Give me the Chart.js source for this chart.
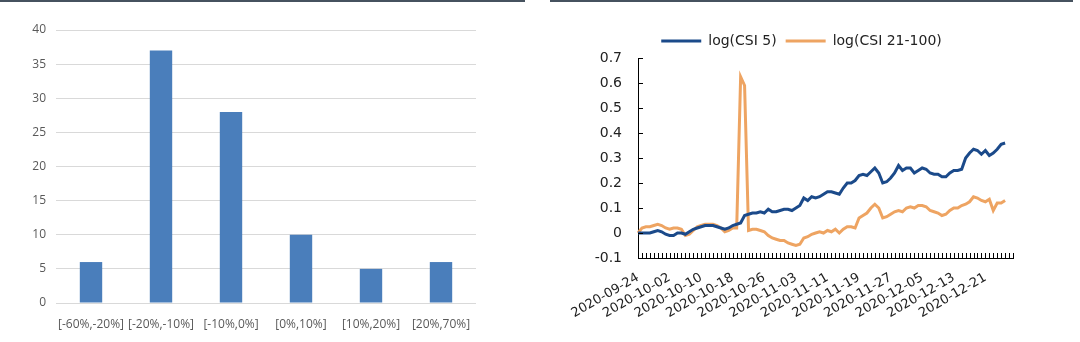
<!DOCTYPE html>
<html>
<head>
<meta charset="utf-8">
<script src="https://cdn.jsdelivr.net/npm/chart.js@4"></script>
<style>
  html, body { margin: 0; padding: 0; background: #fff; }
  body { width: 1080px; height: 342px; position: relative; overflow: hidden; }
  .topline { position: absolute; top: 0; height: 2px; background: #46525f; }
  .box { position: absolute; top: 0; width: 540px; height: 342px; }
</style>
</head>
<body>
<div class="topline" style="left:0;width:525px"></div>
<div class="topline" style="left:550px;width:523px"></div>
<div class="box" style="left:0"><canvas id="barChart" width="540" height="342"></canvas></div>
<div class="box" style="left:540px"><canvas id="lineChart" width="540" height="342"></canvas></div>
<script>
// left: distribution of returns
const bucketLabels = ['[-60%,-20%]', '[-20%,-10%]', '[-10%,0%]', '[0%,10%]', '[10%,20%]', '[20%,70%]'];
const bucketCounts = [6, 37, 28, 10, 5, 6];

// right: daily log index, 2020-09-24 .. 2020-12-28
const startDate = '2020-09-24';
const dayCount = 96;
const csi5 = [
  0.00, 0.00, 0.00, 0.00, 0.005, 0.01, 0.005, -0.005, -0.01, -0.01,
  0.00, 0.00, -0.005, 0.005, 0.015, 0.02, 0.025, 0.03, 0.03, 0.03,
  0.025, 0.02, 0.015, 0.02, 0.03, 0.035, 0.04, 0.07, 0.075, 0.08,
  0.08, 0.085, 0.08, 0.095, 0.085, 0.085, 0.09, 0.095, 0.095, 0.09,
  0.10, 0.11, 0.14, 0.13, 0.145, 0.14, 0.145, 0.155, 0.165, 0.165,
  0.16, 0.155, 0.18, 0.20, 0.20, 0.21, 0.23, 0.235, 0.23, 0.245,
  0.26, 0.24, 0.20, 0.205, 0.22, 0.24, 0.27, 0.25, 0.26, 0.26,
  0.24, 0.25, 0.26, 0.255, 0.24, 0.235, 0.235, 0.225, 0.225, 0.24,
  0.25, 0.25, 0.255, 0.30, 0.32, 0.335, 0.33, 0.315, 0.33, 0.31,
  0.32, 0.335, 0.355, 0.36
];
const csi21to100 = [
  0.00, 0.02, 0.025, 0.025, 0.03, 0.035, 0.03, 0.02, 0.015, 0.02,
  0.02, 0.015, -0.01, -0.005, 0.01, 0.025, 0.03, 0.035, 0.035, 0.035,
  0.03, 0.02, 0.005, 0.01, 0.02, 0.02, 0.625, 0.59, 0.01, 0.015,
  0.015, 0.01, 0.005, -0.01, -0.02, -0.025, -0.03, -0.03, -0.04, -0.045,
  -0.05, -0.045, -0.02, -0.015, -0.005, 0.00, 0.005, 0.00, 0.01, 0.005,
  0.015, 0.00, 0.015, 0.025, 0.025, 0.02, 0.06, 0.07, 0.08, 0.10,
  0.115, 0.10, 0.06, 0.065, 0.075, 0.085, 0.09, 0.085, 0.10, 0.105,
  0.10, 0.11, 0.11, 0.105, 0.09, 0.085, 0.08, 0.07, 0.075, 0.09,
  0.10, 0.10, 0.11, 0.115, 0.125, 0.145, 0.14, 0.13, 0.125, 0.135,
  0.09, 0.12, 0.12, 0.13
];

const dateLabels = [];
for (let i = 0; i < dayCount; i++) {
  const d = new Date(startDate + 'T00:00:00Z');
  d.setUTCDate(d.getUTCDate() + i);
  dateLabels.push(d.toISOString().slice(0, 10));
}

new Chart(document.getElementById('barChart'), {
  type: 'bar',
  data: {
    labels: bucketLabels,
    datasets: [{ data: bucketCounts, backgroundColor: '#4a7ebb', categoryPercentage: 1, barPercentage: 0.32 }]
  },
  options: {
    responsive: false,
    animation: false,
    layout: { padding: { left: 0, right: 64, top: 30, bottom: 9 } },
    plugins: { legend: { display: false }, tooltip: { enabled: false } },
    scales: {
      x: {
        grid: { display: false },
        border: { display: false },
        ticks: { color: '#595959', font: { family: 'Open Sans', size: 12 }, padding: 6, maxRotation: 0, autoSkip: false },
        afterFit: s => { s.height = 30; }
      },
      y: {
        min: 0, max: 40,
        ticks: { stepSize: 5, color: '#595959', font: { family: 'Open Sans', size: 12 }, padding: 10 },
        grid: { color: '#d9d9d9', drawTicks: false },
        border: { display: false },
        afterFit: s => { s.width = 56; }
      }
    }
  }
});

// short tick marks pointing into the plot
const innerTicks = {
  id: 'innerTicks',
  afterDraw(chart) {
    const { ctx, scales: { x, y }, chartArea } = chart;
    ctx.save();
    ctx.strokeStyle = '#000';
    ctx.lineWidth = 1;
    ctx.beginPath();
    x.ticks.forEach((t, i) => {
      const px = Math.round(x.getPixelForTick(i)) + 0.5;
      ctx.moveTo(px, chartArea.bottom);
      ctx.lineTo(px, chartArea.bottom - 5);
    });
    y.ticks.forEach((t, i) => {
      const py = Math.round(y.getPixelForTick(i)) + 0.5;
      ctx.moveTo(chartArea.left, py);
      ctx.lineTo(chartArea.left + 5, py);
    });
    ctx.stroke();
    ctx.restore();
  }
};

new Chart(document.getElementById('lineChart'), {
  type: 'line',
  data: {
    labels: dateLabels,
    datasets: [
      { label: 'log(CSI 5)', data: csi5, borderColor: '#1b4a8a', backgroundColor: '#1b4a8a', borderWidth: 3, pointRadius: 0, tension: 0 },
      { label: 'log(CSI 21-100)', data: csi21to100, borderColor: '#eea462', backgroundColor: '#eea462', borderWidth: 3, pointRadius: 0, tension: 0 }
    ]
  },
  options: {
    responsive: false,
    animation: false,
    layout: { padding: { left: 50, right: 67, top: 25, bottom: 0 } },
    plugins: {
      tooltip: { enabled: false },
      legend: {
        position: 'top',
        labels: {
          usePointStyle: true, pointStyle: 'line', pointStyleWidth: 40,
          color: '#222', font: { family: 'DejaVu Sans', size: 14 }, padding: 9
        }
      }
    },
    scales: {
      x: {
        offset: false,
        grid: { display: false },
        border: { display: true, color: '#000', width: 1 },
        ticks: {
          autoSkip: false, minRotation: 30, maxRotation: 30, padding: 4,
          color: '#222', font: { family: 'DejaVu Sans', size: 13 },
          callback: (v, i) => (i % 8 === 0 ? dateLabels[i] : '')
        },
        afterFit: s => { s.height = 84; }
      },
      y: {
        min: -0.1, max: 0.7,
        grid: { display: false },
        border: { display: true, color: '#000', width: 1 },
        ticks: {
          stepSize: 0.1, padding: 8, color: '#222', font: { family: 'DejaVu Sans', size: 14 },
          callback: v => String(Math.round(v * 10) / 10)
        },
        afterFit: s => { s.width = 48; }
      }
    }
  },
  plugins: [innerTicks]
});
</script>
</body>
</html>
